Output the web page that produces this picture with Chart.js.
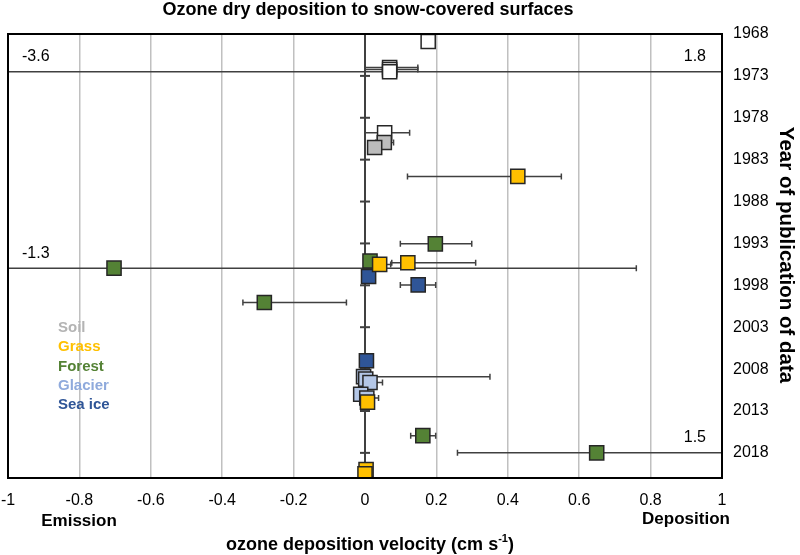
<!DOCTYPE html>
<html>
<head>
<meta charset="utf-8">
<title>Ozone dry deposition to snow-covered surfaces</title>
<script src="https://cdn.jsdelivr.net/npm/chart.js@4.4.1/dist/chart.umd.min.js"></script>
<style>
  html, body { margin: 0; padding: 0; background: #fff; }
  #wrap { width: 800px; height: 555px; }
</style>
</head>
<body>
<div id="wrap"><canvas id="ozoneChart" width="800" height="555"></canvas></div>
<script>
(() => {
  // rows: [deposition velocity (cm/s), year of publication, error low, error high]
  const SNOW = [
    [0.177, 1968.9, null, null],
    [0.069, 1972.0, 0.0, 0.148],
    [0.069, 1972.25, 0.0, 0.148],
    [0.069, 1972.5, -3.6, 1.8],
    [0.055, 1979.8, 0.0, 0.125]
  ];
  const SOIL = [
    [0.054, 1980.95, 0.03, 0.08],
    [0.027, 1981.55, null, null]
  ];
  const GRASS = [
    [0.428, 1985.0, 0.119, 0.55],
    [0.12, 1995.3, 0.075, 0.31],
    [0.041, 1995.5, 0.01, 0.072],
    [0.007, 2011.95, null, null],
    [0.003, 2020.0, null, null],
    [0.0, 2020.5, null, null]
  ];
  const FOREST = [
    [0.197, 1993.05, 0.099, 0.299],
    [0.014, 1995.1, null, null],
    [-0.703, 1995.95, -1.3, 0.76],
    [-0.282, 2000.05, -0.342, -0.052],
    [0.162, 2015.95, 0.128, 0.198],
    [0.649, 2018.0, 0.259, 1.5]
  ];
  const GLACIER = [
    [-0.004, 2008.9, 0.0, 0.35],
    [0.002, 2009.2, null, null],
    [0.014, 2009.6, 0.0, 0.049],
    [-0.012, 2011.0, null, null],
    [0.005, 2011.45, 0.0, 0.038]
  ];
  const SEA_ICE = [
    [0.01, 1996.95, null, null],
    [0.149, 1997.95, 0.099, 0.198],
    [0.004, 2007.0, null, null]
  ];

  const X_TICKS = [-1, -0.8, -0.6, -0.4, -0.2, 0, 0.2, 0.4, 0.6, 0.8, 1];
  const YEAR_TICKS = [1968, 1973, 1978, 1983, 1988, 1993, 1998, 2003, 2008, 2013, 2018];
  const YEAR_MIN = 1968;
  const YEAR_MAX = 2021;

  const LEGEND_LABELS = ["Soil", "Grass", "Forest", "Glacier", "Sea ice"];
  const LEGEND_COLORS = ["#b4b4b4", "#ffc000", "#548235", "#8faadc", "#2f5597"];

  const FONT = "'Liberation Sans', Arial, sans-serif";
  const EDGE = "#262626";
  const BAR = "#404040";

  /* ---------- DATASETS ---------- */

  function series(label, rows, fill, order) {
    return {
      label,
      rows,
      order,
      data: rows.map(r => ({ x: r[0], y: r[1] })),
      pointStyle: "rect",
      pointRadius: 10,
      pointHoverRadius: 10,
      pointBackgroundColor: fill,
      pointBorderColor: EDGE,
      pointBorderWidth: 1.5,
      showLine: false,
      clip: 0
    };
  }

  const datasets = [
    series("Grass", GRASS, "#ffc000", 0),
    series("Sea ice", SEA_ICE, "#2f5597", 1),
    series("Glacier", GLACIER, "#b4c7e7", 2),
    series("Forest", FOREST, "#548235", 3),
    series("Soil", SOIL, "#bcbcbc", 4),
    series("Snow", SNOW, "#ffffff", 5)
  ];

  /* ---------- DRAWING HELPERS ---------- */

  const overlay = {
    id: "overlay",
    beforeDatasetsDraw(chart) {
      const { ctx, chartArea: a, scales: { x, y } } = chart;
      ctx.save();
      ctx.beginPath();
      ctx.rect(a.left, a.top, a.right - a.left, a.bottom - a.top);
      ctx.clip();

      // vertical axis through zero, with its tick marks
      const x0 = x.getPixelForValue(0);
      ctx.strokeStyle = BAR;
      ctx.lineWidth = 2;
      ctx.beginPath();
      ctx.moveTo(x0, a.top);
      ctx.lineTo(x0, a.bottom);
      ctx.stroke();
      YEAR_TICKS.forEach(t => {
        const py = y.getPixelForValue(t);
        ctx.beginPath();
        ctx.moveTo(x0 - 5, py);
        ctx.lineTo(x0 + 5, py);
        ctx.stroke();
      });

      // error bars
      ctx.lineWidth = 1.5;
      const offscale = [];
      chart.data.datasets.forEach(ds => {
        ds.rows.forEach(([, yr, lo, hi]) => {
          if (lo == null) return;
          const py = y.getPixelForValue(yr);
          const pl = x.getPixelForValue(lo);
          const ph = x.getPixelForValue(hi);
          ctx.beginPath();
          ctx.moveTo(pl, py);
          ctx.lineTo(ph, py);
          ctx.moveTo(pl, py - 3);
          ctx.lineTo(pl, py + 3);
          ctx.moveTo(ph, py - 3);
          ctx.lineTo(ph, py + 3);
          ctx.stroke();
          if (lo < x.min) offscale.push({ text: String(lo), side: "left", py });
          if (hi > x.max) offscale.push({ text: String(hi), side: "right", py });
        });
      });

      // values of bars running off the axis
      ctx.fillStyle = "#000";
      ctx.font = "16px " + FONT;
      ctx.textBaseline = "middle";
      offscale.forEach(o => {
        if (o.side === "left") {
          ctx.textAlign = "left";
          ctx.fillText(o.text, a.left + 14, o.py - 15);
        } else {
          ctx.textAlign = "right";
          ctx.fillText(o.text, a.right - 16, o.py - 15);
        }
      });
      ctx.restore();
    },

    afterDraw(chart) {
      const { ctx, chartArea: a } = chart;
      ctx.save();

      // plot frame
      ctx.strokeStyle = "#000";
      ctx.lineWidth = 2;
      ctx.strokeRect(a.left, a.top, a.right - a.left, a.bottom - a.top);

      ctx.fillStyle = "#000";
      ctx.textBaseline = "middle";

      // title
      ctx.textAlign = "center";
      ctx.font = "bold 18px " + FONT;
      ctx.fillText("Ozone dry deposition to snow-covered surfaces", 368, 10);

      // direction hints
      ctx.font = "bold 17px " + FONT;
      ctx.fillText("Emission", 79, 521);
      ctx.fillText("Deposition", 686, 519);

      // x axis title with superscript
      const main = "ozone deposition velocity (cm s";
      ctx.font = "bold 18px " + FONT;
      const wMain = ctx.measureText(main).width;
      const wClose = ctx.measureText(")").width;
      ctx.font = "bold 11px " + FONT;
      const wSup = ctx.measureText("-1").width;
      const total = wMain + wSup + wClose;
      let tx = 370 - total / 2;
      ctx.textAlign = "left";
      ctx.font = "bold 18px " + FONT;
      ctx.fillText(main, tx, 545);
      tx += wMain;
      ctx.font = "bold 11px " + FONT;
      ctx.fillText("-1", tx, 539);
      tx += wSup;
      ctx.font = "bold 18px " + FONT;
      ctx.fillText(")", tx, 545);

      // y axis title, reading downwards
      ctx.save();
      ctx.translate(786, 255);
      ctx.rotate(Math.PI / 2);
      ctx.textAlign = "center";
      ctx.font = "bold 20.5px " + FONT;
      ctx.fillText("Year of publication of data", 0, 0);
      ctx.restore();

      // text legend
      ctx.textAlign = "left";
      ctx.font = "bold 15px " + FONT;
      LEGEND_LABELS.forEach((lab, i) => {
        ctx.fillStyle = LEGEND_COLORS[i];
        ctx.fillText(lab, 58, 328 + i * 19.2);
      });

      ctx.restore();
    }
  };

  /* ---------- CHART ---------- */

  new Chart(document.getElementById("ozoneChart"), {
    type: "scatter",
    data: { datasets },
    options: {
      responsive: false,
      animation: false,
      devicePixelRatio: 1,
      layout: { autoPadding: false, padding: { left: 8, top: 34, right: 0, bottom: 0 } },
      plugins: {
        legend: { display: false },
        tooltip: { enabled: false },
        title: { display: false }
      },
      scales: {
        x: {
          type: "linear",
          min: -1,
          max: 1,
          afterBuildTicks(scale) {
            scale.ticks = X_TICKS.map(v => ({ value: v }));
          },
          afterFit(scale) {
            scale.height = 77;
            scale.paddingLeft = 0;
            scale.paddingRight = 0;
          },
          grid: { color: "#c0c0c0", lineWidth: 1.5, drawTicks: false },
          border: { display: false },
          ticks: {
            padding: 13,
            color: "#000",
            font: { family: FONT, size: 16 },
            callback: v => String(Math.round(v * 10) / 10)
          }
        },
        y: {
          type: "linear",
          position: "right",
          reverse: true,
          min: YEAR_MIN,
          max: YEAR_MAX,
          afterBuildTicks(scale) {
            scale.ticks = YEAR_TICKS.map(v => ({ value: v }));
          },
          afterFit(scale) {
            scale.width = 78;
            scale.paddingTop = 0;
            scale.paddingBottom = 0;
          },
          grid: { display: false, drawTicks: false },
          border: { display: false },
          ticks: {
            padding: 11,
            color: "#000",
            font: { family: FONT, size: 16 },
            callback: v => String(v)
          }
        }
      }
    },
    plugins: [overlay]
  });
})();
</script>
</body>
</html>
